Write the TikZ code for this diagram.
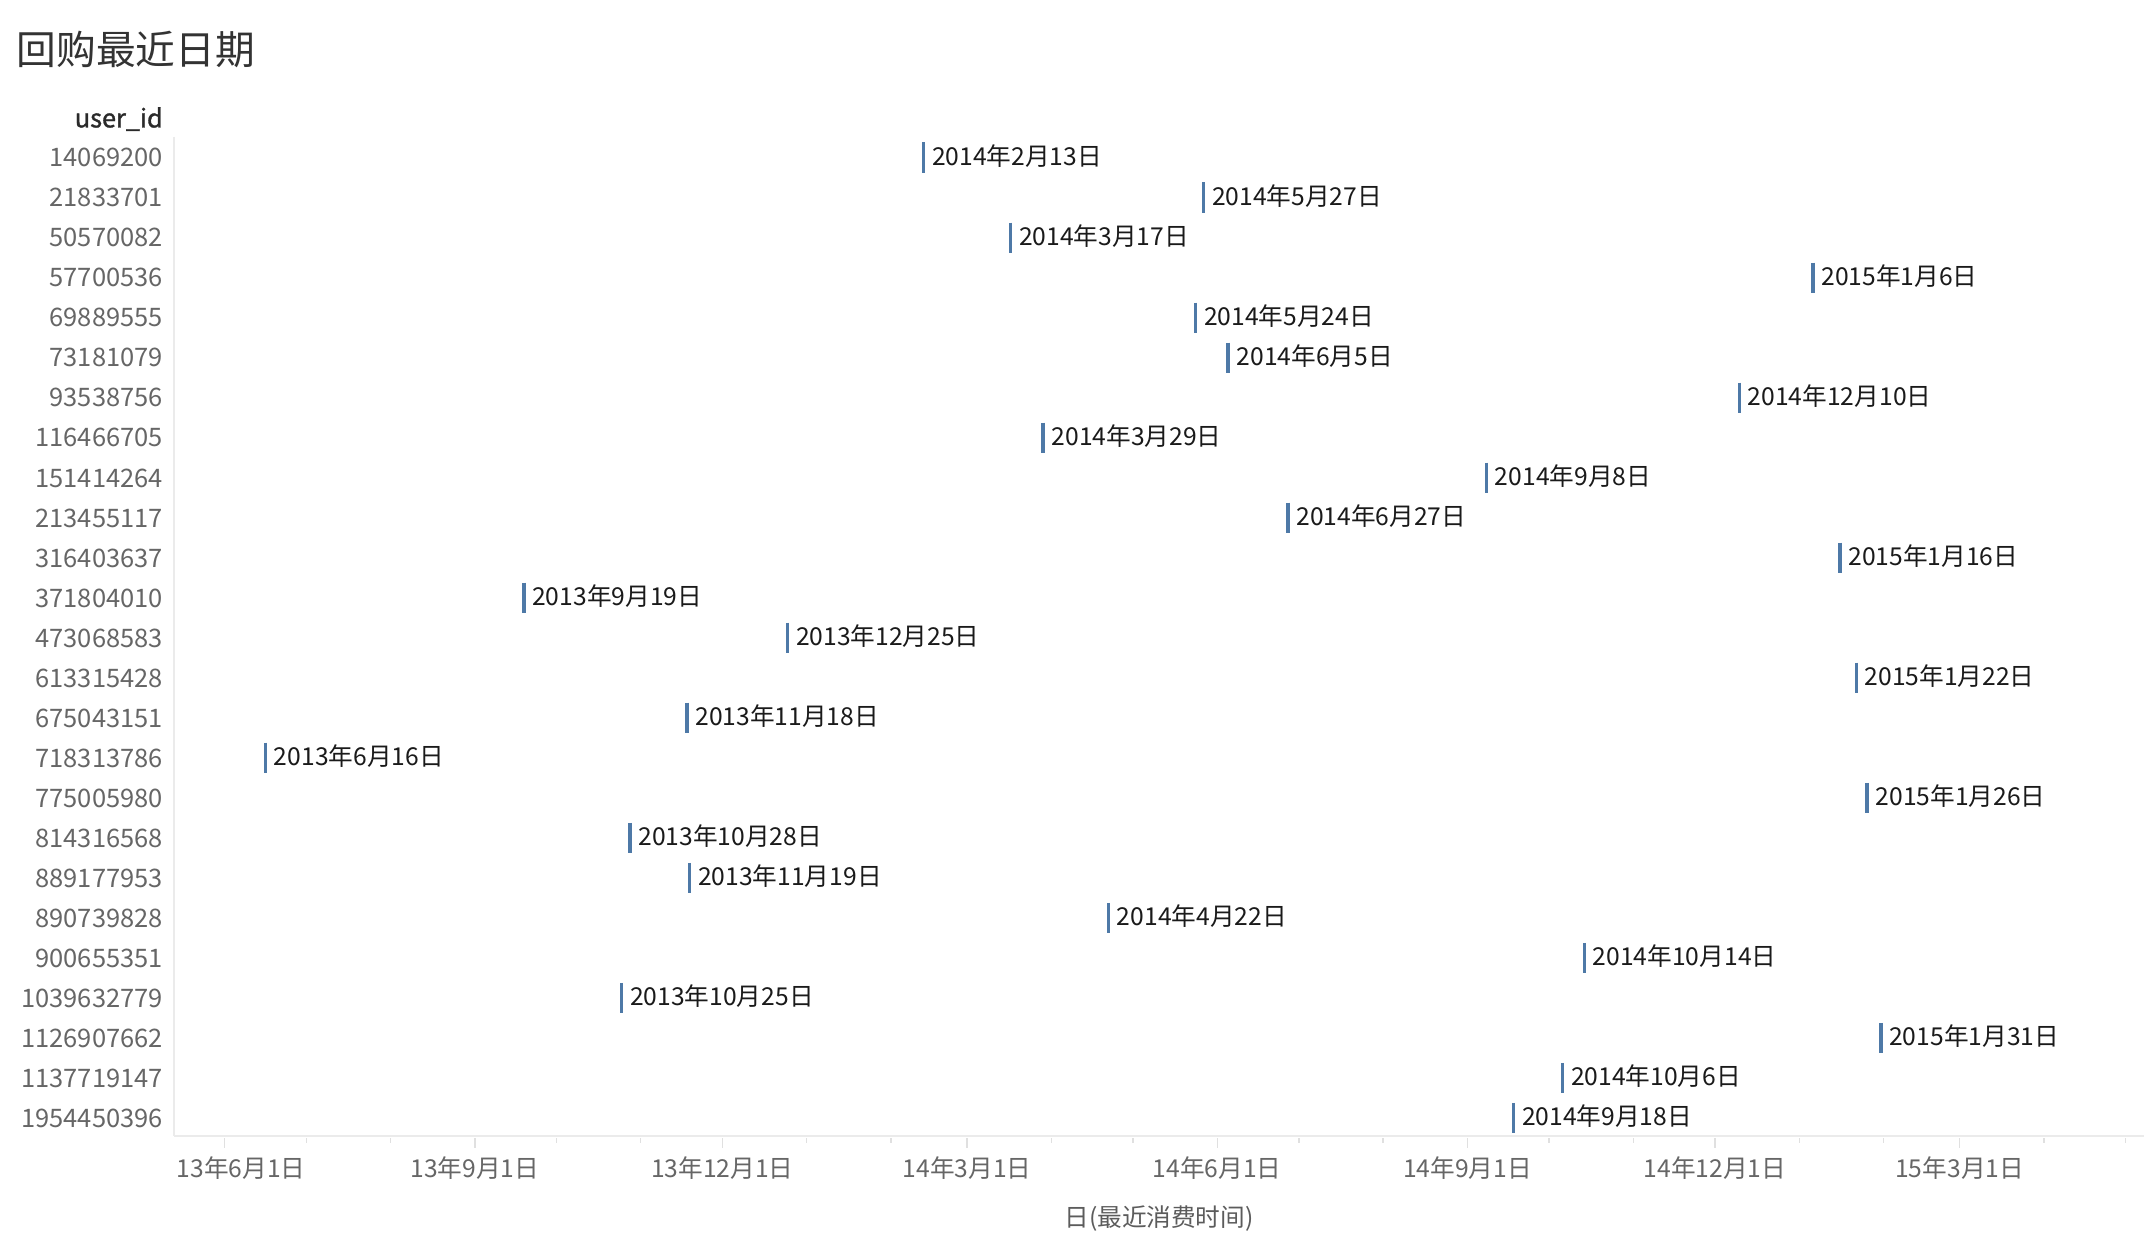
\documentclass[tikz,border=0pt]{standalone}
\usepackage{fontspec}
\setmainfont{Noto Sans CJK SC}
\newfontfamily\hdrfont[FakeBold=1.2]{Noto Sans CJK SC}
\definecolor{tabblue}{HTML}{4E79A7}
\definecolor{titlegrey}{HTML}{333333}
\definecolor{labgrey}{HTML}{666666}
\definecolor{hdrgrey}{HTML}{2A2A2A}
\definecolor{datagrey}{HTML}{1A1A1A}
\definecolor{axisgrey}{HTML}{EBEBEB}
\definecolor{tickgrey}{HTML}{E0E0E0}
\begin{document}
\begin{tikzpicture}[x=1pt,y=-1pt,
  txt/.style={inner sep=0pt,font=\fontsize{18}{20}\selectfont},
  rowlab/.style={txt,anchor=base east,text=labgrey,font=\fontsize{18.6}{20}\selectfont},
  datalab/.style={txt,anchor=base west,text=datagrey},
  ticklab/.style={txt,anchor=base,text=labgrey},
  barline/.style={draw=tabblue,line width=2.6pt},
  axisline/.style={draw=axisgrey,line width=1.2pt},
  tickline/.style={draw=tickgrey,line width=1pt}]
\useasboundingbox[fill=white] (0,0) rectangle (1565,912);
% title and header
\node[inner sep=0pt,anchor=base west,text=titlegrey,font=\fontsize{29}{32}\selectfont] (title) at (12,47) {回购最近日期};
\node[inner sep=0pt,anchor=base east,text=hdrgrey,font=\fontsize{18.5}{20}\hdrfont] (hdr) at (119,93) {user\_id};
% axes
\coordinate (pltl) at (127,100);
\coordinate (plbl) at (127,829);
\coordinate (plbr) at (1565,829);
\draw[axisline] (pltl) -- (plbl);
\draw[axisline] (plbl) -- (plbr);
% minor ticks
\foreach \d [count=\k] in {0,30,61,92,122,153,183,214,245,273,304,334,365,395,426,457,487,518,548,579,610,638,669,699}{
  \pgfmathsetmacro\xx{164+1.985*\d}
  \coordinate (mt\k) at (\xx,831);
  \coordinate (mb\k) at (\xx,834);
  \draw[tickline] (mt\k) -- (mb\k);
}
% major ticks and labels
\foreach \d/\lab/\dx [count=\k] in {0/13年6月1日/12,92/13年9月1日/0,183/13年12月1日/0,273/14年3月1日/0,365/14年6月1日/0,457/14年9月1日/0,548/14年12月1日/0,638/15年3月1日/0}{
  \pgfmathsetmacro\xx{164+1.985*\d}
  \coordinate (Mt\k) at (\xx,831);
  \coordinate (Mb\k) at (\xx,838);
  \draw[tickline] (Mt\k) -- (Mb\k);
  \node[ticklab] (tl\k) at (\xx+\dx,859.6) {\lab};
}
\node[ticklab,text=labgrey!90!black] (xtitle) at (846,895.6) {日(最近消费时间)};
% data rows
\foreach \id/\d/\lab [count=\i] in {
  14069200/257/2014年2月13日,
  21833701/360/2014年5月27日,
  50570082/289/2014年3月17日,
  57700536/584/2015年1月6日,
  69889555/357/2014年5月24日,
  73181079/369/2014年6月5日,
  93538756/557/2014年12月10日,
  116466705/301/2014年3月29日,
  151414264/464/2014年9月8日,
  213455117/391/2014年6月27日,
  316403637/594/2015年1月16日,
  371804010/110/2013年9月19日,
  473068583/207/2013年12月25日,
  613315428/600/2015年1月22日,
  675043151/170/2013年11月18日,
  718313786/15/2013年6月16日,
  775005980/604/2015年1月26日,
  814316568/149/2013年10月28日,
  889177953/171/2013年11月19日,
  890739828/325/2014年4月22日,
  900655351/500/2014年10月14日,
  1039632779/146/2013年10月25日,
  1126907662/609/2015年1月31日,
  1137719147/492/2014年10月6日,
  1954450396/474/2014年9月18日}{
  \pgfmathsetmacro\yy{115+29.21*(\i-1)}
  \pgfmathsetmacro\xx{164+1.985*\d}
  \node[rowlab] (id\i) at (119,\yy+6.8) {\id};
  \coordinate (bt\i) at (\xx,\yy-11);
  \coordinate (bb\i) at (\xx,\yy+11);
  \draw[barline] (bt\i) -- (bb\i);
  \node[datalab] (lab\i) at (\xx+6,\yy+5.6) {\lab};
}
\end{tikzpicture}
\end{document}
